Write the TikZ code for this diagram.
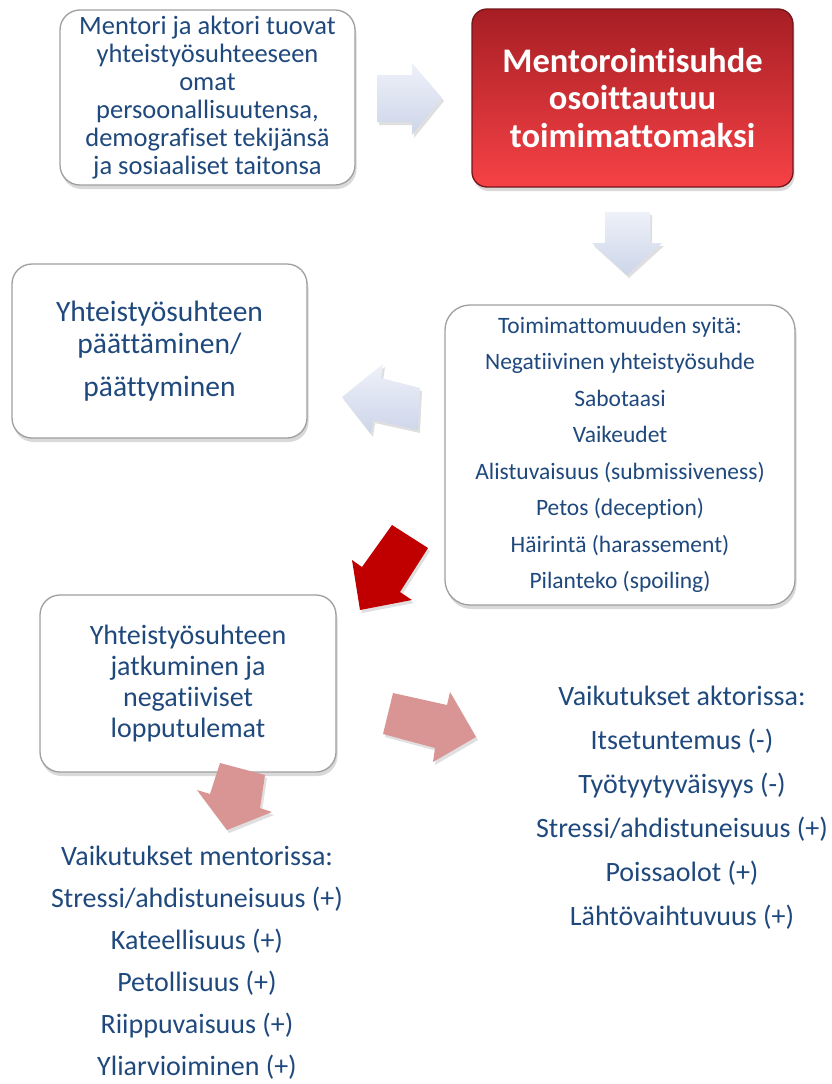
\documentclass[tikz,border=0pt]{standalone}
\usepackage{fontspec}
\setmainfont[RawFeature={-liga;-clig;-dlig}]{Carlito}
\usetikzlibrary{shadows}
\definecolor{tekstisin}{RGB}{31,73,125}
\definecolor{punatumma}{RGB}{166,30,36}
\definecolor{punavaalea}{RGB}{246,66,70}
\definecolor{nuolivaalea}{RGB}{238,241,249}
\definecolor{nuolitumma}{RGB}{205,213,233}
\definecolor{nuolipuna}{RGB}{192,0,0}
\definecolor{nuolipinkki}{RGB}{217,149,148}
\tikzset{
  laatikko/.style={draw=gray!75, line width=1.3pt, rounded corners=20pt, fill=white,
    drop shadow={shadow xshift=1.5pt, shadow yshift=-4pt, opacity=.3},
    text=tekstisin, align=center, inner sep=0pt},
  lista/.style={text=tekstisin, align=center, inner sep=0pt},
  nuoli/.style={drop shadow={shadow xshift=2pt, shadow yshift=-3pt, opacity=.25}},
  vaalea nuoli/.style={nuoli, top color=nuolivaalea, bottom color=nuolitumma},
}
\begin{document}
\begin{tikzpicture}[x=1pt,y=-1pt]
\useasboundingbox (0,0) rectangle (832,1084);

\node[laatikko, minimum width=295pt, minimum height=175pt, font=\fontsize{26.5}{28}\selectfont] (tuovat) at (207.5,97.5)
  {Mentori ja aktori tuovat\\ yhteistyösuhteeseen\\ omat\\ persoonallisuutensa,\\ demografiset tekijänsä\\ ja sosiaaliset taitonsa};
\node[laatikko, draw=punatumma!70!black, rounded corners=15pt, top color=punatumma, bottom color=punavaalea,
  minimum width=321pt, minimum height=178pt, text=white, font=\fontsize{34.5}{37.5}\selectfont\bfseries] (suhde) at (632.5,98)
  {Mentorointisuhde\\ osoittautuu\\ toimimattomaksi};
\node[laatikko, rounded corners=25pt, minimum width=350pt, minimum height=300pt, font=\fontsize{23.5}{36.5}\selectfont] (syita) at (620,455)
  {Toimimattomuuden syitä:\\ Negatiivinen yhteistyösuhde\\ Sabotaasi\\ Vaikeudet\\ Alistuvaisuus (submissiveness)\\ Petos (deception)\\ Häirintä (harassement)\\ Pilanteko (spoiling)};
\node[laatikko, minimum width=295pt, minimum height=174pt, font=\fontsize{29.5}{32}\selectfont] (paattyminen) at (159.5,351)
  {Yhteistyösuhteen\\ päättäminen/\\[11pt] päättyminen};
\node[laatikko, minimum width=296pt, minimum height=177pt, font=\fontsize{28}{31}\selectfont] (jatkuminen) at (188,683.5)
  {Yhteistyösuhteen\\ jatkuminen ja\\ negatiiviset\\ lopputulemat};

% nuolet
\path[vaalea nuoli] (377,75) -- (412,75) -- (412,63) -- (442,98) -- (412,135) -- (412,122) -- (377,122) -- cycle;
\path[vaalea nuoli] (605,212) -- (650,212) -- (650,243) -- (662,243) -- (627,275) -- (592,243) -- (605,243) -- cycle;
\path[vaalea nuoli] (342,397) -- (383,364) -- (381,378) -- (420,388) -- (418,430) -- (373,420) -- (371,434) -- cycle;
\path[nuoli, fill=nuolipuna] (392,525) -- (428,548) -- (400,592) -- (412,600) -- (360,610) -- (352,560) -- (362,567) -- cycle;
\path[nuoli, fill=nuolipinkki] (393,693) -- (447,705) -- (450,692) -- (476,737) -- (433,762) -- (435,748) -- (383,734) -- cycle;
\path[nuoli, fill=nuolipinkki] (220,763) -- (265,775) -- (260,808) -- (272,812) -- (227,830) -- (197,790) -- (210,794) -- cycle;

\node[lista, font=\fontsize{28}{42}\selectfont] (mentorissa) at (197,963)
  {Vaikutukset mentorissa:\\ Stressi/ahdistuneisuus (+)\\ Kateellisuus (+)\\ Petollisuus (+)\\ Riippuvaisuus (+)\\ Yliarvioiminen (+)};
\node[lista, font=\fontsize{28}{44}\selectfont] (aktorissa) at (682,807.5)
  {Vaikutukset aktorissa:\\ Itsetuntemus (-)\\ Työtyytyväisyys (-)\\ Stressi/ahdistuneisuus (+)\\ Poissaolot (+)\\ Lähtövaihtuvuus (+)};
\end{tikzpicture}
\end{document}
